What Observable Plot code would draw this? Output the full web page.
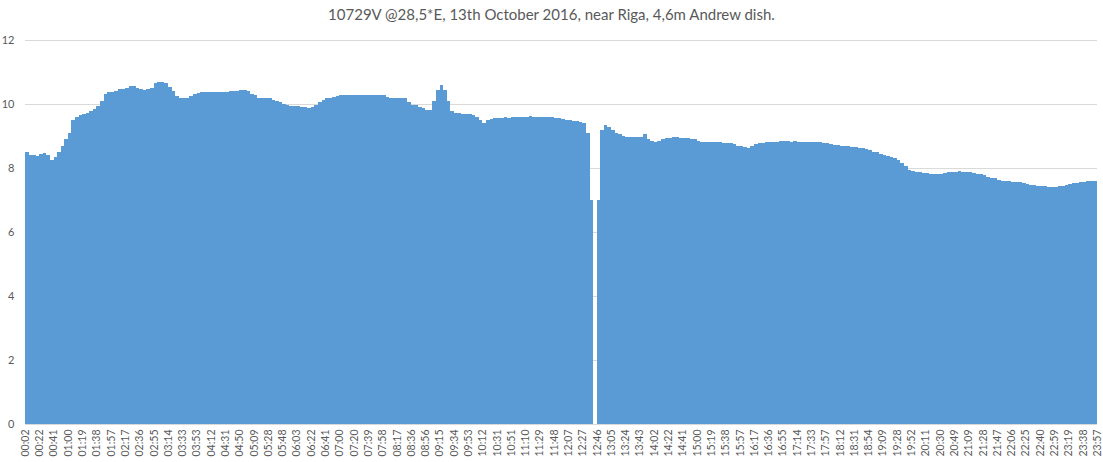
<!DOCTYPE html>
<html><head><meta charset="utf-8">
<script src="https://cdn.jsdelivr.net/npm/d3@7"></script>
<script src="https://cdn.jsdelivr.net/npm/@observablehq/plot@0.6"></script>
<style>
body{margin:0;background:#fff;font-family:Lato, "Open Sans", sans-serif;}
#title{height:28px;line-height:28px;text-align:center;font-size:15px;color:#595959;}
#chart svg{display:block;}
</style></head><body>
<div id="title">10729V @28,5*E, 13th October 2016, near Riga, 4,6m Andrew dish.</div>
<div id="chart"></div>
<script>
const timeLabels = ["00:02","00:22","00:41","01:00","01:19","01:38","01:57","02:17","02:36","02:55","03:14","03:33","03:53","04:12","04:31","04:50","05:09","05:28","05:48","06:03","06:22","06:41","07:00","07:20","07:39","07:58","08:17","08:36","08:56","09:15","09:34","09:53","10:12","10:31","10:51","11:10","11:29","11:48","12:07","12:27","12:46","13:05","13:24","13:43","14:02","14:22","14:41","15:00","15:19","15:38","15:57","16:17","16:36","16:55","17:14","17:33","17:57","18:12","18:31","18:54","19:09","19:28","19:52","20:11","20:30","20:49","21:09","21:28","21:47","22:06","22:25","22:40","22:59","23:19","23:38","23:57"];

// signal level, 4 readings per label interval
const level = [
8.50,8.40,8.42,8.38, 8.45,8.48,8.40,8.25, 8.35,8.50,8.70,8.90, 9.10,9.50,9.60,9.65,
9.70,9.72,9.78,9.85, 9.95,10.10,10.30,10.37, 10.37,10.40,10.47,10.47, 10.50,10.57,10.57,10.50,
10.47,10.45,10.47,10.50, 10.65,10.68,10.68,10.65, 10.53,10.40,10.25,10.20, 10.18,10.20,10.26,10.30,
10.35,10.37,10.37,10.37, 10.37,10.37,10.38,10.37, 10.37,10.40,10.40,10.42, 10.45,10.45,10.40,10.30,
10.28,10.20,10.18,10.18, 10.18,10.12,10.08,10.05, 10.00,9.97,9.95,9.95, 9.93,9.92,9.92,9.88,
9.90,9.98,10.05,10.12, 10.18,10.20,10.22,10.26, 10.27,10.28,10.28,10.28, 10.28,10.28,10.28,10.28,
10.28,10.28,10.28,10.28, 10.27,10.22,10.20,10.20, 10.20,10.20,10.18,10.05, 9.98,9.97,9.92,9.88,
9.82,9.80,10.10,10.45, 10.58,10.45,10.10,9.78, 9.72,9.72,9.70,9.70, 9.68,9.66,9.60,9.50,
9.42,9.50,9.52,9.55, 9.56,9.57,9.58,9.57, 9.58,9.60,9.60,9.60, 9.60,9.62,9.60,9.60,
9.60,9.58,9.60,9.58, 9.55,9.55,9.52,9.50, 9.50,9.48,9.47,9.45, 9.40,9.10,7.00,0,
7.00,9.20,9.35,9.28, 9.20,9.10,9.05,9.00, 8.98,8.97,8.98,8.97, 8.97,9.05,8.90,8.85,
8.82,8.85,8.90,8.95, 8.95,8.97,8.97,8.95, 8.95,8.93,8.92,8.90, 8.85,8.82,8.82,8.80,
8.80,8.82,8.80,8.78, 8.78,8.77,8.75,8.70, 8.68,8.65,8.62,8.68, 8.74,8.77,8.78,8.80,
8.80,8.82,8.82,8.83, 8.83,8.85,8.82,8.83, 8.82,8.82,8.80,8.80, 8.80,8.80,8.80,8.78,
8.77,8.75,8.72,8.72, 8.70,8.70,8.68,8.66, 8.66,8.64,8.62,8.60, 8.56,8.50,8.50,8.45,
8.42,8.38,8.34,8.30, 8.25,8.15,8.05,7.95, 7.92,7.88,7.87,7.85, 7.83,7.82,7.80,7.80,
7.82,7.85,7.88,7.88, 7.88,7.90,7.88,7.88, 7.86,7.85,7.82,7.80, 7.77,7.73,7.70,7.68,
7.64,7.60,7.60,7.58, 7.57,7.57,7.55,7.52, 7.50,7.48,7.47,7.45, 7.45,7.44,7.42,7.42,
7.42,7.43,7.45,7.47, 7.50,7.52,7.52,7.55, 7.56,7.58,7.60,7.60
];
const yTicks = [0, 2, 4, 6, 8, 10, 12];
const readingsPerLabel = 4;

const data = level.map((v, i) => ({i, v}));
const tickPos = timeLabels.map((_, k) => k * readingsPerLabel);

const chart = Plot.plot({
  width: 1103, height: 434,
  marginTop: 12, marginBottom: 38, marginLeft: 25, marginRight: 6,
  x: {type: "linear", domain: [0, level.length], axis: null, label: null},
  y: {domain: [0, 12], axis: null, label: null},
  style: {fontFamily: "Lato, 'Open Sans', sans-serif", fontSize: "11px", color: "#595959", background: "white"},
  marks: [
    Plot.gridY(yTicks, {stroke: "#d9d9d9", strokeOpacity: 1}),
    Plot.rectY(data, {x1: "i", x2: d => d.i + 1, y: "v", fill: "#5B9BD5", shapeRendering: "crispEdges"}),
    Plot.axisY(yTicks, {tickSize: 0, tickPadding: 11, fill: "#595959", label: null}),
    Plot.axisX(tickPos, {tickSize: 0, tickPadding: 5, tickRotate: -90, fill: "#595959", label: null, fontSize: 10.5,
      tickFormat: d => timeLabels[Math.round(d / readingsPerLabel)]})
  ]
});
document.getElementById("chart").appendChild(chart);
</script>
</body></html>
